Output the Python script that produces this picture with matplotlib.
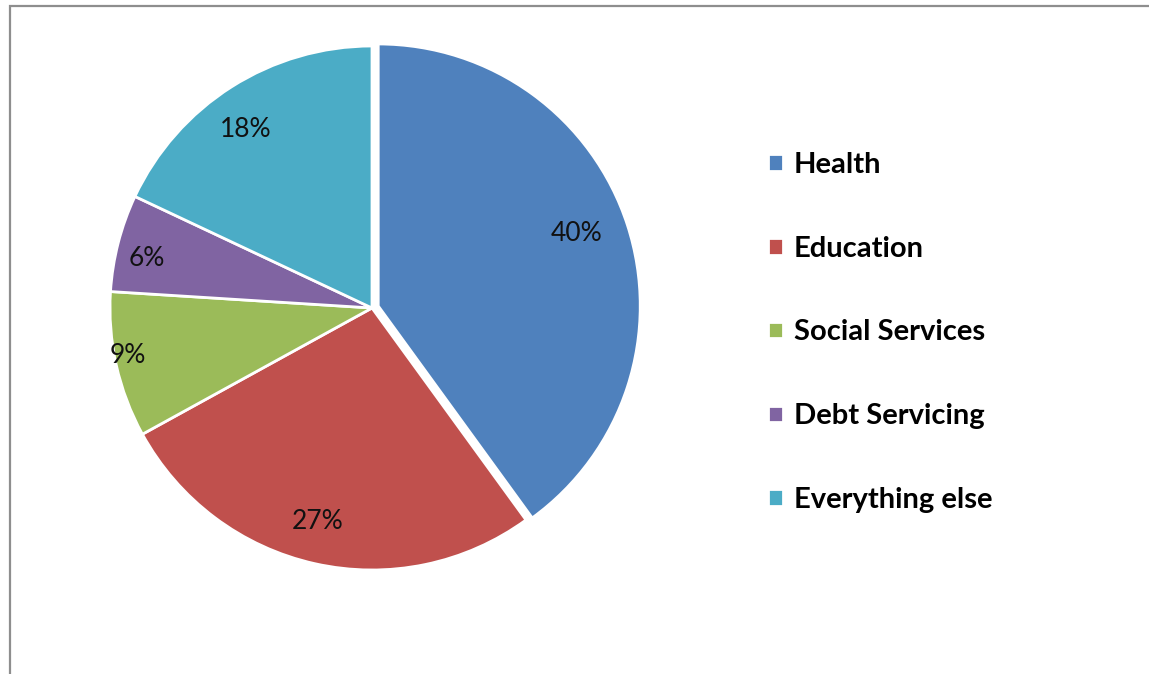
import matplotlib
matplotlib.use("Agg")
import matplotlib.pyplot as plt
import numpy as np
from matplotlib.patches import Rectangle

categories = ["Health", "Education", "Social Services", "Debt Servicing", "Everything else"]
values = [40, 27, 9, 6, 18]
colors = ["#4F81BD", "#C0504D", "#9BBB59", "#8064A2", "#4BACC6"]
explode = [0.025, 0, 0, 0, 0]
# label placement (distance from centre, angle shift from wedge bisector in degrees)
label_dist = [0.83, 0.84, 0.95, 0.88, 0.835]
label_shift = [2.0, -1.6, -1.7, 2.0, 3.0]

W, H = 1149, 674
fig = plt.figure(figsize=(W / 100, H / 100), dpi=100)
fig.patch.set_facecolor("white")

# outer frame
fig.patches.append(Rectangle((10 / W, -0.05), 1.2, (H - 6) / H + 0.05, transform=fig.transFigure,
                             fill=False, edgecolor="#8e8e8e", linewidth=1.6))

R = 262.0
cx, cy = 372.0, H - 308.0
lim = 1.2
size = 2 * lim * R
ax = fig.add_axes([(cx - size / 2) / W, (cy - size / 2) / H, size / W, size / H])

wedges, _ = ax.pie(values, colors=colors, explode=explode, startangle=90, counterclock=False,
                   radius=1.0, wedgeprops=dict(edgecolor="white", linewidth=2.0))
ax.set_xlim(-lim, lim)
ax.set_ylim(-lim, lim)
ax.set_aspect("equal")
ax.axis("off")

for w, v, d, s in zip(wedges, values, label_dist, label_shift):
    ang = np.deg2rad((w.theta1 + w.theta2) / 2 + s)
    x = d * np.cos(ang)
    y = d * np.sin(ang)
    ax.text(x, y, f"{v}%", ha="center", va="center", fontsize=19, color="#111111",
            family=["Lato", "DejaVu Sans"])

leg = fig.legend(wedges, categories, loc="upper left", bbox_to_anchor=(768 / W, (H - 152) / H),
                 frameon=False, prop=dict(family=["Lato", "DejaVu Sans"], size=21, weight="bold"),
                 handlelength=0.5, handleheight=0.5, handletextpad=0.38, labelspacing=1.98,
                 borderpad=0, borderaxespad=0)

fig.savefig("out.png", dpi=100, facecolor="white")
